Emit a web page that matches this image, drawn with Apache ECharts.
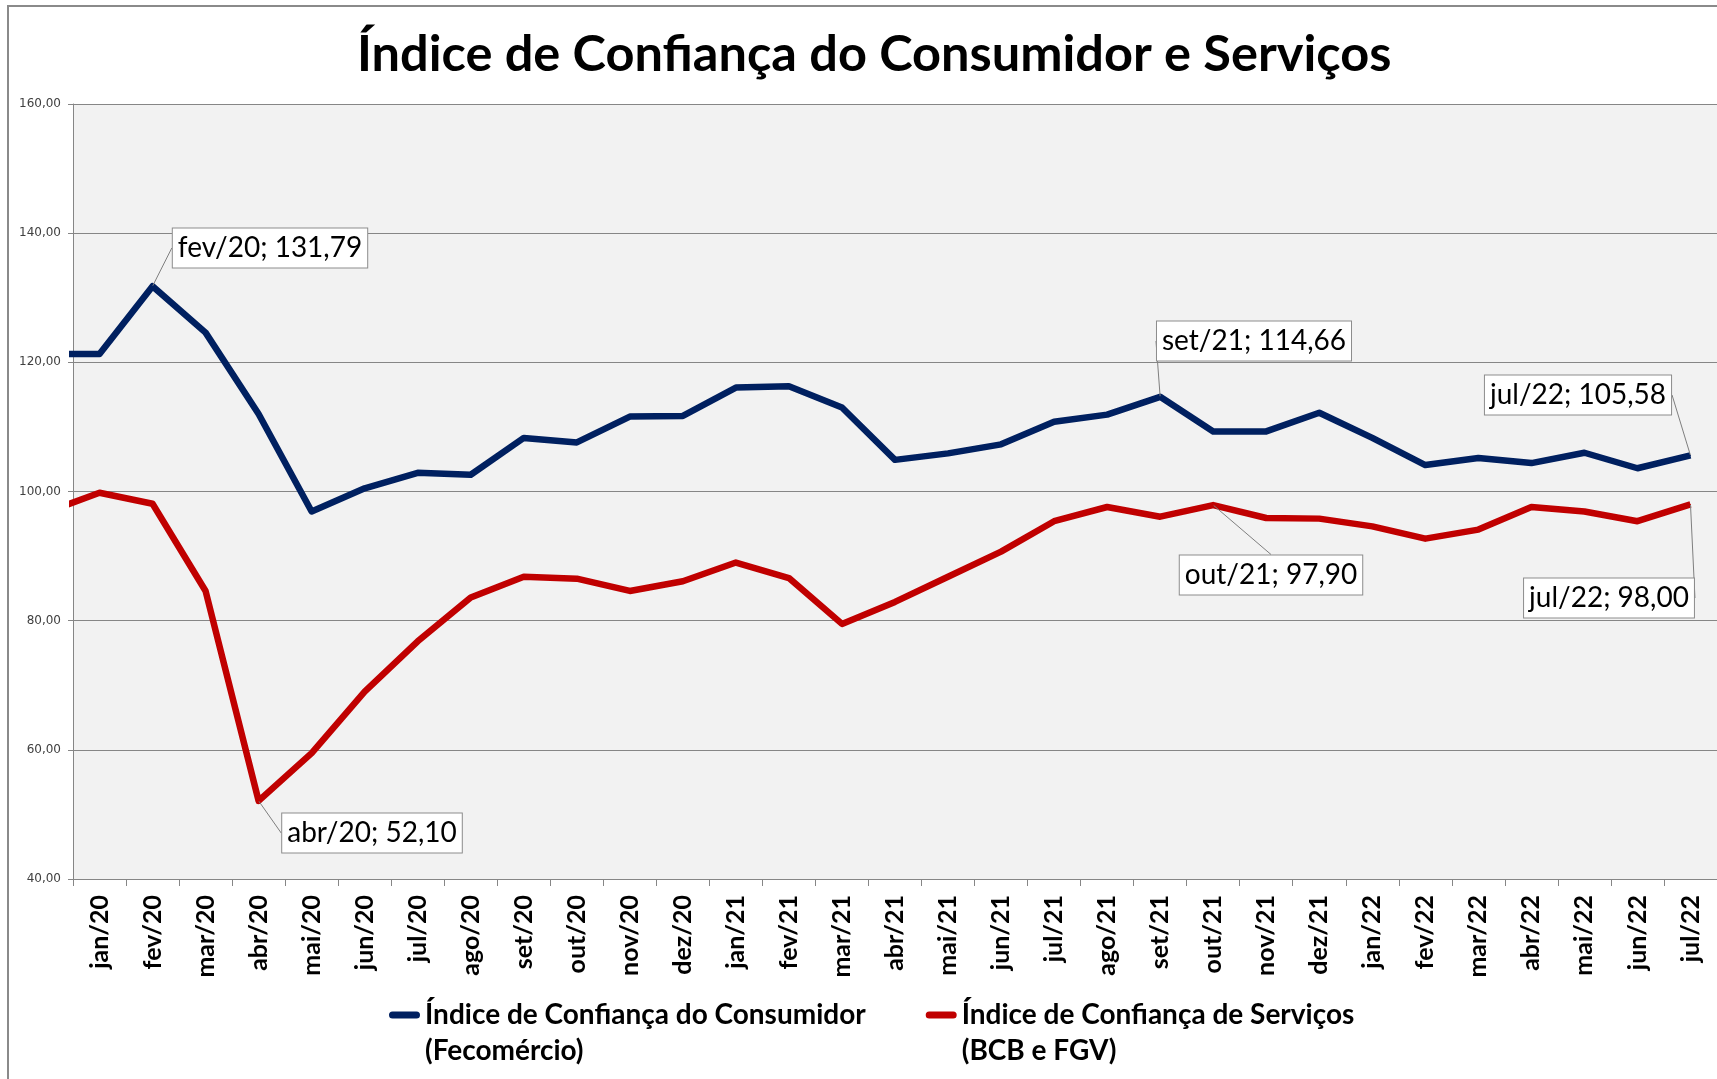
<!DOCTYPE html>
<html>
<head>
<meta charset="utf-8">
<script src="https://cdn.jsdelivr.net/npm/echarts@6/dist/echarts.min.js"></script>
<style>
  html, body { margin: 0; padding: 0; background: #fff; }
  #chart { width: 1717px; height: 1079px; }
</style>
</head>
<body>
<div id="chart"></div>
<script>
// meses (o primeiro, dez/19, fica cortado pelo eixo)
const months = ['dez/19', 'jan/20', 'fev/20', 'mar/20', 'abr/20', 'mai/20', 'jun/20', 'jul/20', 'ago/20', 'set/20', 'out/20', 'nov/20', 'dez/20',
  'jan/21', 'fev/21', 'mar/21', 'abr/21', 'mai/21', 'jun/21', 'jul/21', 'ago/21', 'set/21', 'out/21', 'nov/21', 'dez/21',
  'jan/22', 'fev/22', 'mar/22', 'abr/22', 'mai/22', 'jun/22', 'jul/22']
const consumidor = [121.3, 121.3, 131.79, 124.6, 112.0, 96.9, 100.5, 102.9, 102.6, 108.3, 107.6, 111.6, 111.7,
  116.1, 116.3, 113.0, 104.9, 105.9, 107.3, 110.8, 111.9, 114.66, 109.3, 109.3, 112.2,
  108.3, 104.1, 105.2, 104.4, 106.0, 103.6, 105.58]
const servicos = [96.8, 99.8, 98.1, 84.6, 52.10, 59.5, 69.0, 76.8, 83.6, 86.8, 86.5, 84.6, 86.1,
  89.0, 86.6, 79.5, 82.9, 86.8, 90.7, 95.4, 97.6, 96.1, 97.90, 95.9, 95.8,
  94.6, 92.7, 94.1, 97.6, 96.9, 95.4, 98.00]
const yTicks = [40, 60, 80, 100, 120, 140, 160]
const legendNames = [
  'Índice de Confiança do Consumidor\n(Fecomércio)',
  'Índice de Confiança de Serviços\n(BCB e FGV)',
]

// pontos com rótulo e onde fica a caixa
const consumidorNotes = { 2: [270, 248], 21: [1254, 341], 31: [1578, 395] }
const servicosNotes = { 4: [372, 833], 22: [1271, 575], 31: [1609, 598] }

const fmt = (v) => v.toFixed(2).replace('.', ',')
const toPoints = (arr) => arr.map((v, i) => [i - 1, v])

const labelStyle = {
  fontFamily: 'Lato',
  fontSize: 28,
  color: '#000',
  backgroundColor: '#fff',
  borderColor: '#8c8c8c',
  borderWidth: 1,
  padding: [6, 5, 5, 5],
}

// traço da legenda alinhado com a primeira linha do texto
const legendIcon = 'path://M3.5,14.5 L27.5,14.5 A3.5,3.5 0 0 1 27.5,21.5 L3.5,21.5 A3.5,3.5 0 0 1 3.5,14.5 Z ' +
  'M0,0 L0.01,0 L0.01,0.01 Z M31,72 L30.99,72 L30.99,71.99 Z'

function makeSeries(name, values, color, notes) {
  return {
    name: name,
    type: 'line',
    xAxisIndex: 1,
    data: toPoints(values).map((p, i) => ({
      value: p,
      label: { show: notes[i] !== undefined },
    })),
    symbol: 'circle',
    symbolSize: 1,
    showAllSymbol: true,
    clip: true,
    color: color,
    lineStyle: { width: 6.5, color: color, join: 'round' },
    itemStyle: { color: color },
    label: Object.assign({
      formatter: (p) => months[p.dataIndex] + '; ' + fmt(p.value[1]),
    }, labelStyle),
    labelLine: { show: true, lineStyle: { color: '#7f7f7f', width: 1 } },
    labelLayout: (p) => {
      const pos = notes[p.dataIndex]
      if (!pos) return {}
      return { x: pos[0], y: pos[1], align: 'center', verticalAlign: 'middle' }
    },
    emphasis: { disabled: true },
  }
}

const chartDom = echarts.init(document.getElementById('chart'))
const option = {
  animation: false,
  backgroundColor: '#fff',
  title: {
    text: 'Índice de Confiança do Consumidor e Serviços',
    left: 352,
    top: 24,
    textStyle: { fontFamily: 'Lato', fontWeight: 'bold', fontSize: 50.5, color: '#000' },
  },
  graphic: [{
    type: 'rect',
    shape: { x: 8, y: 6, width: 2000, height: 2000 },
    style: { fill: 'none', stroke: '#8a8a8a', lineWidth: 2 },
    silent: true,
  }],
  grid: {
    left: 73,
    top: 104,
    width: 1645,
    height: 775,
    show: true,
    backgroundColor: '#f2f2f2',
    borderWidth: 0,
  },
  legend: {
    left: 389,
    top: 997,
    padding: 0,
    itemWidth: 31,
    itemHeight: 72,
    itemGap: 60,
    icon: legendIcon,
    selectedMode: false,
    data: legendNames,
    textStyle: {
      fontFamily: 'Lato',
      fontWeight: 'bold',
      fontSize: 28,
      lineHeight: 36,
      color: '#000',
    },
  },
  xAxis: [
    {
      type: 'category',
      data: months.slice(1),
      boundaryGap: true,
      axisLine: { lineStyle: { color: '#868686', width: 1 } },
      axisTick: { show: true, length: 7, lineStyle: { color: '#868686' } },
      axisLabel: {
        rotate: 90,
        margin: 16,
        fontFamily: 'Lato',
        fontWeight: 'bold',
        fontSize: 25,
        color: '#000',
        interval: 0,
      },
      splitLine: { show: false },
    },
    {
      type: 'value',
      min: -0.5,
      max: months.length - 1.5,
      show: false,
    },
  ],
  yAxis: {
    type: 'value',
    min: yTicks[0],
    max: yTicks[yTicks.length - 1],
    interval: 20,
    axisLine: { show: true, onZero: false, lineStyle: { color: '#868686', width: 1 } },
    axisTick: { show: true, length: 5, lineStyle: { color: '#868686' } },
    axisLabel: {
      formatter: (v) => fmt(v),
      fontFamily: 'DejaVu Sans',
      fontSize: 12,
      color: '#404040',
      margin: 12,
    },
    splitLine: { show: true, lineStyle: { color: '#868686', width: 1 } },
  },
  series: [
    makeSeries(legendNames[0], consumidor, '#002060', consumidorNotes),
    makeSeries(legendNames[1], servicos, '#c00000', servicosNotes),
  ],
}
chartDom.setOption(option)
window.addEventListener('resize', () => {
  chartDom.resize()
})
</script>
</body>
</html>
